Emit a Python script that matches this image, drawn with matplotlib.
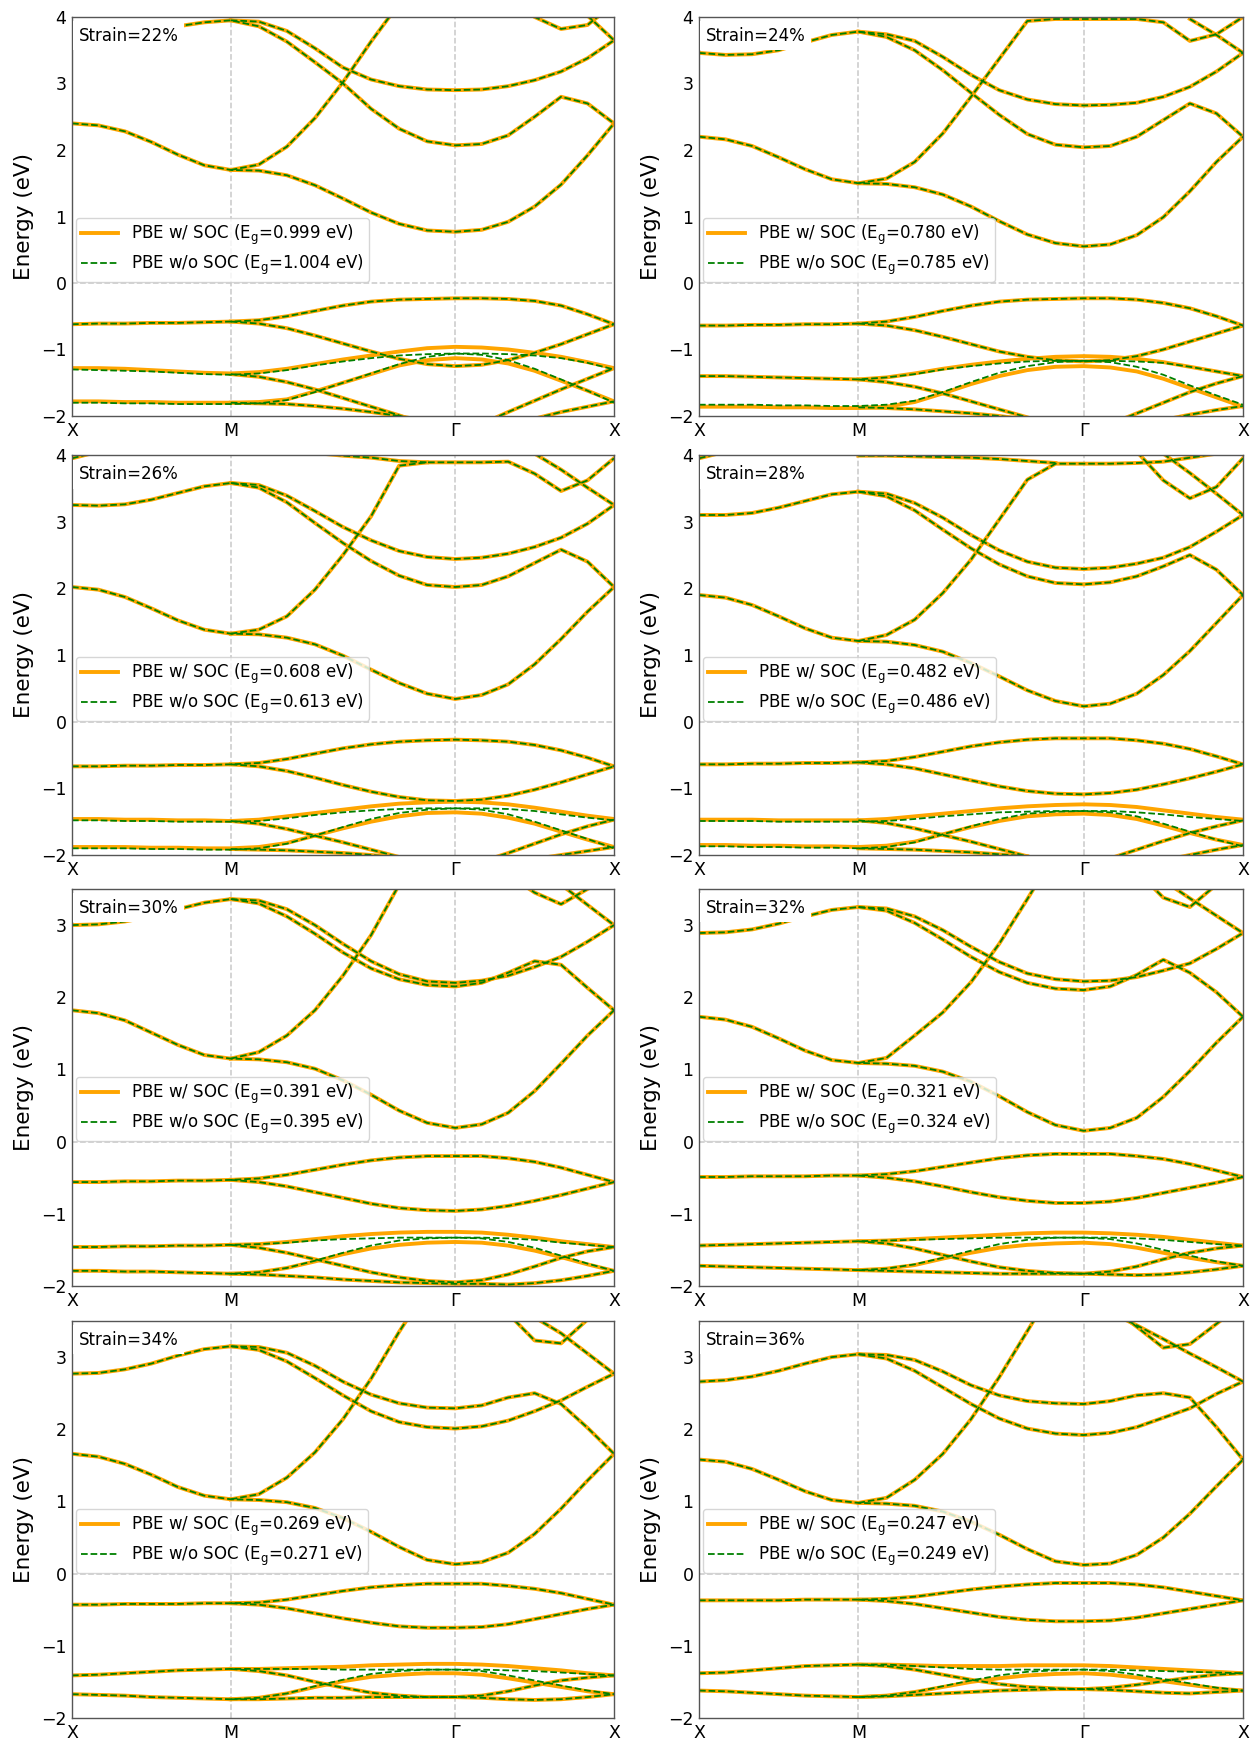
import numpy as np
import matplotlib
matplotlib.use("Agg")
import matplotlib.pyplot as plt

N = float("nan")

# ---------------------------------------------------------------------------
# k-path X-M-Γ-X of the square Brillouin zone (units of 2π/a) and sampling
# ---------------------------------------------------------------------------
path_labels = ["X", "M", "Γ", "X"]
path_nodes = [0.0, 0.5, 0.5 + 0.5 * np.sqrt(2), 1.0 + 0.5 * np.sqrt(2)]
segment_steps = [6, 8, 6]

strains = [22, 24, 26, 28, 30, 32, 34, 36]
gap_soc = [0.999, 0.780, 0.608, 0.482, 0.391, 0.321, 0.269, 0.247]
gap_nosoc = [1.004, 0.785, 0.613, 0.486, 0.395, 0.324, 0.271, 0.249]
energy_top = [4, 4, 4, 4, 3.5, 3.5, 3.5, 3.5]

# Each band: 21 energies (eV) at X, 5 points, M, 7 points, Γ, 5 points, X.
# "common" bands coincide with and without SOC; "soc"/"nosoc" are split ones.

# ----- strain 22 % -----
common_22 = [
    [2.40, 2.37, 2.28, 2.12, 1.93, 1.77, 1.70, 1.69, 1.62, 1.47, 1.27, 1.06, 0.89, 0.79, 0.77, 0.80, 0.92, 1.15, 1.48, 1.92, 2.40],
    [N, N, N, N, N, N, 1.70, 1.78, 2.05, 2.48, 3.02, 3.63, 4.20, N, N, N, N, N, N, N, N],
    [3.65, 3.67, 3.72, 3.79, 3.86, 3.92, 3.95, 3.86, 3.63, 3.32, 3.00, 2.62, 2.32, 2.13, 2.07, 2.09, 2.22, 2.50, 2.80, 2.70, 2.40],
    [N, N, N, N, N, N, 3.95, 3.93, 3.79, 3.53, 3.24, 3.06, 2.96, 2.91, 2.90, 2.91, 2.96, 3.05, 3.18, 3.38, 3.65],
    [N, N, N, N, N, N, N, N, N, N, N, N, N, N, N, N, 4.30, 4.00, 3.82, 3.88, 4.20],
    [N, N, N, N, N, N, N, N, N, N, N, N, N, N, N, N, N, N, 4.30, 4.02, 3.65],
    [-0.62, -0.61, -0.61, -0.60, -0.60, -0.59, -0.58, -0.56, -0.50, -0.42, -0.34, -0.28, -0.25, -0.24, -0.23, -0.23, -0.24, -0.27, -0.34, -0.47, -0.62],
    [N, N, N, N, N, N, -0.58, -0.61, -0.68, -0.79, -0.91, -1.03, -1.14, -1.22, -1.25, -1.23, -1.16, -1.05, -0.92, -0.77, -0.62],
    [N, N, N, N, N, N, -1.37, -1.41, -1.49, -1.60, -1.73, -1.86, -1.99, -2.15, N, N, N, N, N, N, N],
    [N, N, N, N, N, N, -1.80, -1.81, -1.82, -1.85, -1.89, -1.94, -2.00, -2.08, N, N, N, N, N, N, N],
    [N, N, N, N, N, N, N, N, N, N, N, N, N, N, N, -2.12, -1.94, -1.77, -1.60, -1.44, -1.28],
    [N, N, N, N, N, N, N, N, N, N, N, N, N, N, N, N, -2.20, -2.04, -1.94, -1.86, -1.78],
]
soc_22 = [
    [-1.28, -1.28, -1.29, -1.31, -1.33, -1.35, -1.36, -1.34, -1.29, -1.22, -1.15, -1.09, -1.03, -0.98, -0.96, -0.97, -1.00, -1.05, -1.11, -1.19, -1.28],
    [-1.78, -1.78, -1.79, -1.79, -1.80, -1.80, -1.80, -1.79, -1.75, -1.63, -1.50, -1.37, -1.24, -1.16, -1.13, -1.15, -1.21, -1.32, -1.47, -1.62, -1.78],
]
nosoc_22 = [
    [-1.30, -1.31, -1.32, -1.33, -1.35, -1.37, -1.38, -1.36, -1.31, -1.24, -1.18, -1.13, -1.09, -1.07, -1.06, -1.06, -1.07, -1.09, -1.13, -1.20, -1.30],
    [-1.80, -1.80, -1.81, -1.81, -1.82, -1.82, -1.82, -1.81, -1.76, -1.64, -1.50, -1.36, -1.22, -1.11, -1.06, -1.08, -1.16, -1.29, -1.45, -1.62, -1.80],
]

# ----- strain 24 % -----
common_24 = [
    [2.20, 2.16, 2.06, 1.89, 1.71, 1.56, 1.50, 1.49, 1.44, 1.33, 1.15, 0.93, 0.73, 0.60, 0.55, 0.58, 0.72, 0.99, 1.38, 1.82, 2.20],
    [N, N, N, N, N, N, 1.50, 1.57, 1.82, 2.25, 2.80, 3.37, 3.94, 3.97, 3.97, 3.97, 3.97, 3.92, 3.64, 3.74, 4.00],
    [3.46, 3.43, 3.44, 3.50, 3.62, 3.73, 3.78, 3.70, 3.50, 3.20, 2.86, 2.53, 2.24, 2.08, 2.04, 2.06, 2.20, 2.45, 2.70, 2.55, 2.20],
    [N, N, N, N, N, N, 3.78, 3.74, 3.64, 3.40, 3.13, 2.90, 2.76, 2.69, 2.67, 2.68, 2.71, 2.80, 2.95, 3.18, 3.46],
    [N, N, N, N, N, N, N, N, N, N, N, N, N, N, N, N, N, N, 3.97, 3.73, 3.46],
    [-0.64, -0.64, -0.63, -0.63, -0.62, -0.62, -0.61, -0.58, -0.51, -0.42, -0.34, -0.28, -0.25, -0.24, -0.23, -0.23, -0.25, -0.30, -0.38, -0.50, -0.64],
    [N, N, N, N, N, N, -0.61, -0.64, -0.71, -0.81, -0.92, -1.03, -1.11, -1.16, -1.18, -1.16, -1.10, -1.00, -0.88, -0.76, -0.64],
    [N, N, N, N, N, N, -1.45, -1.49, -1.56, -1.66, -1.78, -1.90, -2.02, -2.15, N, N, N, N, N, N, N],
    [N, N, N, N, N, N, -1.87, -1.88, -1.90, -1.93, -1.96, -2.00, -2.05, N, N, N, N, N, N, N, N],
    [N, N, N, N, N, N, N, N, N, N, N, N, N, N, N, -2.12, -1.96, -1.80, -1.64, -1.51, -1.40],
    [N, N, N, N, N, N, N, N, N, N, N, N, N, N, N, N, -2.15, -2.06, -1.98, -1.91, -1.85],
]
soc_24 = [
    [-1.40, -1.40, -1.41, -1.42, -1.43, -1.44, -1.45, -1.42, -1.36, -1.29, -1.23, -1.18, -1.14, -1.11, -1.10, -1.11, -1.14, -1.19, -1.26, -1.33, -1.40],
    [-1.86, -1.86, -1.86, -1.87, -1.87, -1.88, -1.88, -1.86, -1.79, -1.66, -1.52, -1.40, -1.31, -1.26, -1.25, -1.27, -1.33, -1.44, -1.58, -1.72, -1.86],
]
nosoc_24 = [
    [-1.40, -1.40, -1.41, -1.42, -1.43, -1.44, -1.45, -1.42, -1.37, -1.30, -1.25, -1.21, -1.18, -1.17, -1.17, -1.17, -1.18, -1.20, -1.26, -1.33, -1.40],
    [-1.83, -1.83, -1.83, -1.84, -1.84, -1.85, -1.85, -1.83, -1.77, -1.64, -1.49, -1.35, -1.25, -1.19, -1.17, -1.19, -1.26, -1.38, -1.54, -1.69, -1.83],
]

# ----- strain 26 % -----
common_26 = [
    [2.02, 1.98, 1.87, 1.70, 1.52, 1.38, 1.32, 1.31, 1.26, 1.16, 0.99, 0.78, 0.58, 0.42, 0.34, 0.40, 0.56, 0.86, 1.24, 1.65, 2.02],
    [3.95, 4.05, N, N, N, N, 1.32, 1.38, 1.58, 1.98, 2.50, 3.08, 3.84, 3.89, 3.89, 3.89, 3.90, 3.72, 3.46, 3.62, 3.95],
    [3.25, 3.24, 3.26, 3.33, 3.43, 3.53, 3.58, 3.51, 3.29, 2.98, 2.68, 2.41, 2.19, 2.05, 2.02, 2.05, 2.18, 2.38, 2.58, 2.40, 2.02],
    [N, N, N, N, N, N, 3.58, 3.55, 3.39, 3.16, 2.92, 2.72, 2.56, 2.47, 2.44, 2.46, 2.52, 2.62, 2.76, 2.97, 3.25],
    [N, N, N, N, N, N, N, N, N, N, N, N, N, N, N, N, N, 4.02, 3.78, 3.51, 3.25],
    [N, N, N, N, N, N, N, N, N, 4.03, 3.99, 3.96, 3.91, 3.89, N, N, N, N, N, N, N],
    [-0.67, -0.67, -0.66, -0.66, -0.65, -0.65, -0.64, -0.62, -0.56, -0.48, -0.40, -0.34, -0.30, -0.28, -0.27, -0.28, -0.30, -0.35, -0.43, -0.54, -0.67],
    [N, N, N, N, N, N, -0.64, -0.67, -0.74, -0.84, -0.95, -1.05, -1.13, -1.18, -1.19, -1.17, -1.11, -1.02, -0.91, -0.79, -0.67],
    [N, N, N, N, N, N, -1.49, -1.53, -1.61, -1.71, -1.81, -1.92, -2.03, -2.15, N, N, N, N, N, N, N],
    [N, N, N, N, N, N, -1.91, -1.92, -1.93, -1.95, -1.97, -2.00, -2.04, N, N, N, N, N, N, N, N],
    [N, N, N, N, N, N, N, N, N, N, N, N, N, N, N, -2.10, -1.97, -1.83, -1.69, -1.57, -1.47],
    [N, N, N, N, N, N, N, N, N, N, N, N, N, N, N, N, -2.12, -2.06, -2.00, -1.94, -1.88],
]
soc_26 = [
    [-1.46, -1.46, -1.47, -1.47, -1.48, -1.48, -1.49, -1.47, -1.42, -1.37, -1.32, -1.27, -1.23, -1.21, -1.20, -1.21, -1.24, -1.29, -1.35, -1.41, -1.46],
    [-1.88, -1.88, -1.88, -1.89, -1.89, -1.90, -1.90, -1.88, -1.82, -1.71, -1.60, -1.50, -1.42, -1.37, -1.36, -1.38, -1.44, -1.53, -1.65, -1.77, -1.88],
]
nosoc_26 = [
    [-1.48, -1.48, -1.49, -1.49, -1.50, -1.50, -1.50, -1.49, -1.45, -1.40, -1.36, -1.33, -1.31, -1.30, -1.30, -1.30, -1.31, -1.34, -1.39, -1.44, -1.48],
    [-1.90, -1.90, -1.90, -1.91, -1.91, -1.92, -1.92, -1.90, -1.83, -1.71, -1.58, -1.46, -1.37, -1.32, -1.30, -1.32, -1.39, -1.50, -1.63, -1.76, -1.90],
]

# ----- strain 28 % -----
common_28 = [
    [1.90, 1.86, 1.75, 1.58, 1.40, 1.26, 1.21, 1.20, 1.15, 1.05, 0.88, 0.68, 0.47, 0.31, 0.23, 0.27, 0.42, 0.70, 1.06, 1.48, 1.90],
    [N, N, N, N, N, N, 1.21, 1.30, 1.53, 1.93, 2.43, 3.03, 3.63, 3.87, 3.87, 3.87, 3.88, 3.90, 3.96, 4.02, N],
    [3.95, 4.05, N, N, N, N, N, N, N, N, N, N, N, N, N, N, 4.05, 3.62, 3.35, 3.52, 3.95],
    [3.10, 3.10, 3.13, 3.21, 3.31, 3.41, 3.45, 3.38, 3.17, 2.88, 2.60, 2.36, 2.18, 2.08, 2.06, 2.09, 2.18, 2.33, 2.50, 2.28, 1.90],
    [N, N, N, N, N, N, 3.45, 3.42, 3.28, 3.06, 2.80, 2.57, 2.40, 2.31, 2.29, 2.31, 2.37, 2.46, 2.62, 2.85, 3.10],
    [N, N, N, N, N, N, N, N, N, N, N, N, N, N, N, N, N, 4.02, 3.73, 3.42, 3.10],
    [N, N, N, N, N, N, 3.99, 3.99, 3.98, 3.97, 3.96, 3.94, 3.91, 3.88, N, N, N, N, N, N, N],
    [-0.64, -0.64, -0.63, -0.63, -0.62, -0.62, -0.61, -0.59, -0.53, -0.45, -0.37, -0.31, -0.27, -0.25, -0.25, -0.25, -0.28, -0.33, -0.41, -0.52, -0.64],
    [N, N, N, N, N, N, -0.61, -0.64, -0.70, -0.79, -0.88, -0.97, -1.04, -1.08, -1.09, -1.07, -1.02, -0.94, -0.85, -0.75, -0.64],
    [N, N, N, N, N, N, -1.48, -1.52, -1.60, -1.70, -1.80, -1.91, -2.02, -2.14, N, N, N, N, N, N, N],
    [N, N, N, N, N, N, -1.90, -1.91, -1.92, -1.94, -1.96, -1.99, -2.02, N, N, N, N, N, N, N, N],
    [N, N, N, N, N, N, N, N, N, N, N, N, N, N, N, -2.05, -1.92, -1.79, -1.67, -1.57, -1.48],
    [N, N, N, N, N, N, N, N, N, N, N, N, N, N, N, N, -2.16, -2.08, -2.00, -1.92, -1.85],
]
soc_28 = [
    [-1.47, -1.47, -1.47, -1.48, -1.48, -1.48, -1.48, -1.46, -1.42, -1.38, -1.34, -1.30, -1.27, -1.25, -1.24, -1.25, -1.28, -1.33, -1.38, -1.43, -1.47],
    [-1.85, -1.85, -1.86, -1.86, -1.87, -1.87, -1.88, -1.86, -1.80, -1.69, -1.58, -1.49, -1.42, -1.39, -1.38, -1.40, -1.46, -1.56, -1.67, -1.77, -1.85],
]
nosoc_28 = [
    [-1.49, -1.49, -1.49, -1.50, -1.50, -1.50, -1.50, -1.49, -1.46, -1.42, -1.39, -1.36, -1.35, -1.34, -1.34, -1.34, -1.36, -1.39, -1.43, -1.46, -1.49],
    [-1.87, -1.87, -1.88, -1.88, -1.89, -1.89, -1.90, -1.88, -1.81, -1.69, -1.57, -1.46, -1.38, -1.35, -1.34, -1.36, -1.42, -1.53, -1.65, -1.77, -1.87],
]

# ----- strain 30 % -----
common_30 = [
    [1.82, 1.78, 1.68, 1.51, 1.34, 1.20, 1.15, 1.14, 1.10, 1.01, 0.85, 0.65, 0.43, 0.26, 0.19, 0.24, 0.40, 0.70, 1.08, 1.47, 1.82],
    [N, N, N, N, N, N, 1.15, 1.24, 1.47, 1.82, 2.30, 2.86, 3.56, 4.20, N, N, N, N, N, N, N],
    [3.00, 3.01, 3.05, 3.12, 3.22, 3.31, 3.36, 3.30, 3.12, 2.88, 2.62, 2.40, 2.25, 2.17, 2.15, 2.20, 2.34, 2.50, 2.45, 2.13, 1.82],
    [N, N, N, N, N, N, 3.36, 3.34, 3.22, 3.00, 2.74, 2.50, 2.32, 2.22, 2.20, 2.23, 2.30, 2.42, 2.56, 2.77, 3.00],
    [N, N, N, N, N, N, N, N, N, N, N, N, N, N, N, N, 3.70, 3.45, 3.29, 3.50, 3.70],
    [N, N, N, N, N, N, N, N, N, N, N, N, N, N, N, N, N, N, 3.56, 3.28, 3.00],
    [-0.56, -0.56, -0.55, -0.55, -0.54, -0.54, -0.53, -0.51, -0.46, -0.39, -0.32, -0.26, -0.22, -0.20, -0.20, -0.20, -0.23, -0.28, -0.36, -0.46, -0.56],
    [N, N, N, N, N, N, -0.53, -0.56, -0.62, -0.70, -0.78, -0.86, -0.92, -0.95, -0.96, -0.94, -0.89, -0.82, -0.74, -0.65, -0.56],
    [N, N, N, N, N, N, -1.43, -1.47, -1.54, -1.63, -1.72, -1.81, -1.88, -1.93, -1.95, -1.92, -1.84, -1.73, -1.61, -1.52, -1.46],
    [N, N, N, N, N, N, -1.83, -1.84, -1.86, -1.88, -1.91, -1.93, -1.95, -1.96, -1.97, -1.97, -1.98, -1.96, -1.92, -1.86, -1.79],
]
soc_30 = [
    [-1.46, -1.46, -1.45, -1.45, -1.44, -1.44, -1.43, -1.42, -1.39, -1.35, -1.31, -1.28, -1.26, -1.25, -1.25, -1.26, -1.29, -1.33, -1.38, -1.42, -1.46],
    [-1.79, -1.79, -1.80, -1.80, -1.81, -1.82, -1.83, -1.81, -1.75, -1.66, -1.56, -1.48, -1.43, -1.40, -1.39, -1.40, -1.44, -1.51, -1.60, -1.70, -1.79],
]
nosoc_30 = [
    [-1.46, -1.46, -1.45, -1.45, -1.44, -1.44, -1.43, -1.42, -1.40, -1.37, -1.35, -1.34, -1.33, -1.33, -1.33, -1.33, -1.34, -1.36, -1.40, -1.43, -1.46],
    [-1.79, -1.79, -1.80, -1.80, -1.81, -1.82, -1.83, -1.81, -1.75, -1.65, -1.54, -1.44, -1.37, -1.34, -1.33, -1.34, -1.39, -1.47, -1.58, -1.69, -1.79],
]

# ----- strain 32 % -----
common_32 = [
    [1.73, 1.69, 1.59, 1.43, 1.26, 1.13, 1.09, 1.08, 1.05, 0.97, 0.83, 0.63, 0.41, 0.23, 0.15, 0.19, 0.33, 0.62, 0.98, 1.37, 1.73],
    [N, N, N, N, N, N, 1.09, 1.16, 1.47, 1.79, 2.21, 2.74, 3.36, 4.00, N, N, N, N, N, N, N],
    [2.89, 2.90, 2.94, 3.02, 3.12, 3.21, 3.25, 3.20, 3.03, 2.80, 2.56, 2.35, 2.20, 2.12, 2.10, 2.15, 2.31, 2.52, 2.34, 2.07, 1.73],
    [N, N, N, N, N, N, 3.25, 3.23, 3.12, 2.93, 2.70, 2.49, 2.33, 2.25, 2.22, 2.23, 2.28, 2.37, 2.47, 2.67, 2.89],
    [N, N, N, N, N, N, N, N, N, N, N, N, N, N, N, N, 3.75, 3.38, 3.25, 3.56, 3.80],
    [N, N, N, N, N, N, N, N, N, N, N, N, N, N, N, N, N, 3.62, 3.37, 3.13, 2.89],
    [-0.49, -0.49, -0.48, -0.48, -0.48, -0.47, -0.47, -0.45, -0.41, -0.35, -0.29, -0.23, -0.19, -0.17, -0.17, -0.17, -0.20, -0.24, -0.31, -0.40, -0.49],
    [N, N, N, N, N, N, -0.47, -0.50, -0.55, -0.62, -0.70, -0.77, -0.82, -0.85, -0.85, -0.83, -0.78, -0.71, -0.64, -0.57, -0.49],
    [N, N, N, N, N, N, -1.38, -1.41, -1.48, -1.57, -1.66, -1.74, -1.79, -1.82, -1.83, -1.80, -1.73, -1.63, -1.54, -1.48, -1.44],
    [N, N, N, N, N, N, -1.78, -1.79, -1.80, -1.81, -1.82, -1.83, -1.83, -1.83, -1.83, -1.84, -1.85, -1.84, -1.81, -1.77, -1.72],
]
soc_32 = [
    [-1.44, -1.43, -1.42, -1.41, -1.40, -1.39, -1.38, -1.37, -1.35, -1.33, -1.31, -1.29, -1.27, -1.26, -1.26, -1.27, -1.29, -1.32, -1.36, -1.40, -1.44],
    [-1.72, -1.73, -1.74, -1.75, -1.76, -1.77, -1.78, -1.76, -1.71, -1.62, -1.54, -1.47, -1.43, -1.41, -1.40, -1.42, -1.47, -1.54, -1.61, -1.67, -1.72],
]
nosoc_32 = [
    [-1.44, -1.43, -1.42, -1.41, -1.40, -1.39, -1.38, -1.37, -1.36, -1.35, -1.34, -1.33, -1.33, -1.33, -1.33, -1.33, -1.34, -1.36, -1.39, -1.42, -1.44],
    [-1.72, -1.73, -1.74, -1.75, -1.76, -1.77, -1.78, -1.76, -1.70, -1.61, -1.51, -1.42, -1.36, -1.33, -1.33, -1.35, -1.41, -1.50, -1.58, -1.66, -1.72],
]

# ----- strain 34 % -----
common_34 = [
    [1.66, 1.62, 1.52, 1.37, 1.20, 1.08, 1.03, 1.02, 0.99, 0.91, 0.77, 0.58, 0.37, 0.19, 0.13, 0.16, 0.29, 0.55, 0.90, 1.29, 1.66],
    [N, N, N, N, N, N, 1.03, 1.10, 1.33, 1.68, 2.14, 2.70, 3.35, 3.95, N, N, N, N, N, N, N],
    [2.77, 2.78, 2.83, 2.91, 3.02, 3.11, 3.15, 3.10, 2.94, 2.71, 2.47, 2.25, 2.10, 2.03, 2.01, 2.04, 2.12, 2.25, 2.40, 2.59, 2.77],
    [N, N, N, N, N, N, 3.15, 3.14, 3.06, 2.88, 2.66, 2.48, 2.36, 2.30, 2.29, 2.33, 2.44, 2.50, 2.35, 2.02, 1.66],
    [N, N, N, N, N, N, N, N, N, N, N, N, N, N, N, N, 3.60, 3.23, 3.19, 3.52, 3.85],
    [N, N, N, N, N, N, N, N, N, N, N, N, N, N, N, N, N, 3.55, 3.33, 3.05, 2.77],
    [-0.43, -0.43, -0.42, -0.42, -0.42, -0.41, -0.41, -0.40, -0.36, -0.30, -0.24, -0.19, -0.16, -0.14, -0.14, -0.14, -0.17, -0.21, -0.27, -0.35, -0.43],
    [N, N, N, N, N, N, -0.41, -0.43, -0.48, -0.55, -0.62, -0.68, -0.73, -0.75, -0.75, -0.74, -0.70, -0.63, -0.56, -0.49, -0.43],
    [N, N, N, N, N, N, -1.32, -1.35, -1.41, -1.50, -1.58, -1.65, -1.69, -1.71, -1.71, -1.69, -1.63, -1.55, -1.48, -1.44, -1.41],
    [N, N, N, N, N, N, -1.74, -1.74, -1.73, -1.72, -1.72, -1.71, -1.71, -1.71, -1.71, -1.72, -1.74, -1.75, -1.74, -1.71, -1.67],
]
soc_34 = [
    [-1.41, -1.40, -1.38, -1.36, -1.34, -1.33, -1.32, -1.32, -1.31, -1.30, -1.29, -1.27, -1.26, -1.25, -1.25, -1.26, -1.28, -1.31, -1.34, -1.38, -1.41],
    [-1.67, -1.68, -1.69, -1.71, -1.72, -1.73, -1.74, -1.72, -1.66, -1.57, -1.49, -1.43, -1.40, -1.38, -1.38, -1.40, -1.45, -1.51, -1.57, -1.63, -1.67],
]
nosoc_34 = [
    [-1.41, -1.40, -1.38, -1.36, -1.34, -1.33, -1.32, -1.32, -1.32, -1.32, -1.33, -1.33, -1.33, -1.33, -1.33, -1.33, -1.34, -1.35, -1.37, -1.39, -1.41],
    [-1.67, -1.68, -1.69, -1.71, -1.72, -1.73, -1.74, -1.72, -1.66, -1.56, -1.47, -1.39, -1.35, -1.33, -1.33, -1.35, -1.41, -1.48, -1.55, -1.62, -1.67],
]

# ----- strain 36 % -----
common_36 = [
    [1.58, 1.55, 1.45, 1.30, 1.14, 1.02, 0.98, 0.97, 0.94, 0.86, 0.72, 0.54, 0.34, 0.17, 0.12, 0.14, 0.26, 0.50, 0.83, 1.21, 1.58],
    [N, N, N, N, N, N, 0.98, 1.05, 1.30, 1.66, 2.14, 2.72, 3.36, 4.00, N, N, N, N, N, N, N],
    [2.66, 2.68, 2.73, 2.81, 2.91, 3.00, 3.04, 2.98, 2.81, 2.58, 2.35, 2.15, 2.01, 1.94, 1.92, 1.95, 2.03, 2.16, 2.29, 2.49, 2.66],
    [N, N, N, N, N, N, 3.04, 3.03, 2.96, 2.80, 2.61, 2.47, 2.39, 2.36, 2.35, 2.39, 2.47, 2.50, 2.44, 2.03, 1.58],
    [N, N, N, N, N, N, N, N, N, N, N, N, N, N, N, 3.70, 3.42, 3.13, 3.18, 3.46, 3.75],
    [N, N, N, N, N, N, N, N, N, N, N, N, N, N, N, 3.62, 3.44, 3.25, 3.05, 2.86, 2.66],
    [-0.37, -0.37, -0.37, -0.37, -0.36, -0.36, -0.36, -0.35, -0.32, -0.27, -0.22, -0.18, -0.15, -0.13, -0.13, -0.13, -0.15, -0.19, -0.25, -0.31, -0.37],
    [N, N, N, N, N, N, -0.36, -0.38, -0.42, -0.48, -0.54, -0.60, -0.64, -0.66, -0.66, -0.65, -0.61, -0.55, -0.49, -0.43, -0.37],
    [N, N, N, N, N, N, -1.26, -1.28, -1.33, -1.40, -1.47, -1.53, -1.57, -1.59, -1.60, -1.58, -1.54, -1.49, -1.44, -1.40, -1.38],
    [N, N, N, N, N, N, -1.71, -1.70, -1.68, -1.66, -1.64, -1.62, -1.61, -1.60, -1.60, -1.61, -1.63, -1.65, -1.66, -1.64, -1.62],
]
soc_36 = [
    [-1.38, -1.37, -1.34, -1.31, -1.28, -1.27, -1.26, -1.26, -1.27, -1.28, -1.28, -1.28, -1.27, -1.27, -1.27, -1.28, -1.30, -1.32, -1.34, -1.36, -1.38],
    [-1.62, -1.63, -1.65, -1.67, -1.69, -1.70, -1.71, -1.69, -1.64, -1.57, -1.50, -1.45, -1.41, -1.39, -1.38, -1.40, -1.44, -1.49, -1.54, -1.59, -1.62],
]
nosoc_36 = [
    [-1.38, -1.37, -1.34, -1.31, -1.28, -1.27, -1.26, -1.26, -1.28, -1.30, -1.32, -1.33, -1.33, -1.33, -1.33, -1.33, -1.34, -1.35, -1.36, -1.37, -1.38],
    [-1.62, -1.63, -1.65, -1.67, -1.69, -1.70, -1.71, -1.69, -1.64, -1.56, -1.48, -1.41, -1.36, -1.34, -1.33, -1.35, -1.40, -1.46, -1.52, -1.58, -1.62],
]

common_sets = [common_22, common_24, common_26, common_28, common_30, common_32, common_34, common_36]
soc_sets = [soc_22, soc_24, soc_26, soc_28, soc_30, soc_32, soc_34, soc_36]
nosoc_sets = [nosoc_22, nosoc_24, nosoc_26, nosoc_28, nosoc_30, nosoc_32, nosoc_34, nosoc_36]

# sampled k coordinates along the path
k_path = np.concatenate([
    np.linspace(path_nodes[0], path_nodes[1], segment_steps[0] + 1),
    np.linspace(path_nodes[1], path_nodes[2], segment_steps[1] + 1)[1:],
    np.linspace(path_nodes[2], path_nodes[3], segment_steps[2] + 1)[1:],
])

# ---------------------------------------------------------------------------
W, H = 1255, 1741
fig = plt.figure(figsize=(W / 100, H / 100), dpi=100)
col_px = [(72, 542), (699, 544)]
row_px = [(17, 399), (455, 400), (889, 397), (1321, 397)]

SOC_COLOR = "orange"
NOSOC_COLOR = "green"
GUIDE = "#c9c9c9"
FRAME = "#555555"

for idx, strain in enumerate(strains):
    r, c = divmod(idx, 2)
    left, width = col_px[c]
    top, height = row_px[r]
    ax = fig.add_axes([left / W, 1 - (top + height) / H, width / W, height / H])

    for x in path_nodes[1:3]:
        ax.axvline(x, color=GUIDE, ls="--", lw=1.1, zorder=0)
    ax.axhline(0, color=GUIDE, ls="--", lw=1.1, zorder=0)

    soc_line = None
    for band in common_sets[idx] + soc_sets[idx]:
        (ln,) = ax.plot(k_path, band, color=SOC_COLOR, lw=2.8, zorder=2)
        soc_line = soc_line or ln
    nosoc_line = None
    for band in common_sets[idx] + nosoc_sets[idx]:
        (ln,) = ax.plot(k_path, band, color=NOSOC_COLOR, lw=1.3, ls="--", zorder=2.5)
        nosoc_line = nosoc_line or ln

    soc_line.set_label(r"PBE w/ SOC (E$_\mathrm{g}$=%.3f eV)" % gap_soc[idx])
    nosoc_line.set_label(r"PBE w/o SOC (E$_\mathrm{g}$=%.3f eV)" % gap_nosoc[idx])

    ax.set_xlim(path_nodes[0], path_nodes[-1])
    ax.set_ylim(-2, energy_top[idx])
    ax.set_yticks(np.arange(-2, np.floor(energy_top[idx]) + 1, 1))
    ax.set_xticks(path_nodes, path_labels)
    ax.tick_params(axis="both", length=0, labelsize=12.5, pad=4)
    for sp in ax.spines.values():
        sp.set_color(FRAME)
        sp.set_linewidth(1.0)
    ax.set_ylabel("Energy (eV)", fontsize=15.5, labelpad=5)

    ax.text(0.012, 0.975, f"Strain={strain}%", transform=ax.transAxes,
            ha="left", va="top", fontsize=12, zorder=4,
            bbox=dict(facecolor="white", edgecolor="none", pad=4))

    ax.legend(handles=[soc_line, nosoc_line], loc="lower left",
              bbox_to_anchor=(0.006, 0.0), bbox_transform=ax.get_yaxis_transform(),
              fontsize=12, borderaxespad=0.05, handlelength=2.2,
              labelspacing=0.35, borderpad=0.3)

fig.savefig("out.png", dpi=100)
